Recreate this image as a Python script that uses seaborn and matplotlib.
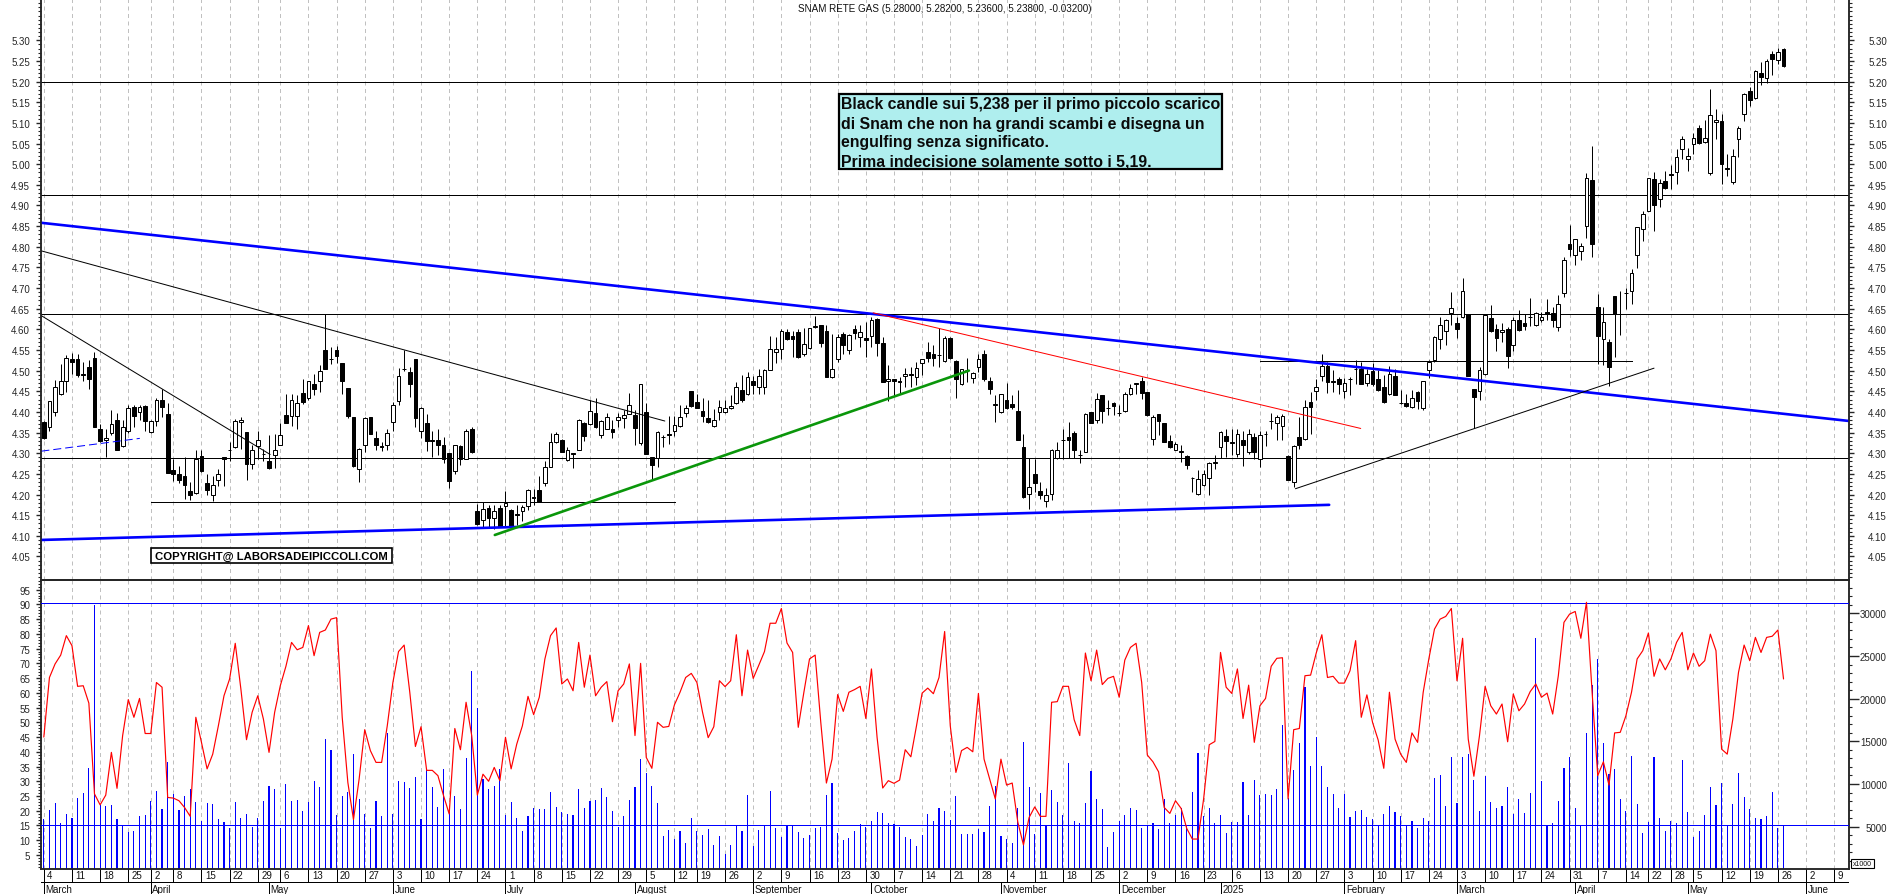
import numpy as np
import matplotlib
matplotlib.use("Agg")
import matplotlib.pyplot as plt
from matplotlib.patches import Rectangle
from matplotlib.ticker import MultipleLocator, FuncFormatter
import seaborn as sns

open_px = [
    4.376,4.363,4.400,4.443,4.476,4.529,4.527,4.492,4.509,4.530,
    4.359,4.331,4.350,4.380,4.317,4.353,4.412,4.400,4.414,4.351,
    4.377,4.429,4.396,4.259,4.249,4.246,4.209,4.204,4.293,4.229,
    4.198,4.235,4.290,4.309,4.315,4.376,4.351,4.273,4.317,4.299,
    4.281,4.295,4.321,4.393,4.389,4.390,4.447,4.434,4.468,4.474,
    4.551,4.529,4.551,4.518,4.459,4.388,4.261,4.321,4.388,4.338,
    4.317,4.321,4.376,4.426,4.503,4.497,4.528,4.355,4.374,4.331,
    4.332,4.321,4.301,4.256,4.317,4.287,4.359,4.160,4.138,4.167,
    4.143,4.168,4.171,4.162,4.152,4.159,4.171,4.193,4.212,4.229,
    4.267,4.327,4.332,4.283,4.301,4.309,4.372,4.371,4.397,4.343,
    4.359,4.359,4.380,4.385,4.396,4.392,4.325,4.400,4.290,4.288,
    4.339,4.346,4.353,4.366,4.397,4.450,4.425,4.403,4.386,4.367,
    4.400,4.400,4.410,4.422,4.454,4.443,4.476,4.460,4.460,4.502,
    4.545,4.552,4.593,4.584,4.593,4.541,4.555,4.606,4.611,4.597,
    4.485,4.527,4.589,4.551,4.600,4.581,4.579,4.584,4.626,4.567,
    4.476,4.480,4.475,4.487,4.492,4.485,4.518,4.544,4.540,4.538,
    4.523,4.579,4.524,4.468,4.501,4.482,4.509,4.540,4.475,4.418,
    4.400,4.430,4.419,4.402,4.315,4.201,4.250,4.208,4.184,4.201,
    4.288,4.332,4.339,4.350,4.296,4.304,4.400,4.380,4.441,4.410,
    4.422,4.398,4.402,4.443,4.468,4.476,4.448,4.335,4.396,4.372,
    4.330,4.309,4.304,4.293,4.240,4.202,4.222,4.240,4.277,4.314,
    4.342,4.327,4.299,4.333,4.304,4.339,4.287,4.347,4.377,4.374,
    4.366,4.293,4.230,4.339,4.335,4.423,4.450,4.487,4.511,4.474,
    4.479,4.451,4.479,4.505,4.505,4.469,4.499,4.480,4.460,4.444,
    4.487,4.422,4.422,4.411,4.448,4.409,4.501,4.525,4.577,4.597,
    4.639,4.616,4.630,4.636,4.456,4.450,4.491,4.628,4.600,4.593,
    4.602,4.563,4.622,4.615,4.630,4.610,4.622,4.642,4.640,4.606,
    4.689,4.807,4.780,4.790,4.850,4.961,4.654,4.577,4.569,4.681,
    4.638,4.687,4.693,4.780,4.842,4.887,4.965,4.915,4.960,4.975,
    4.982,5.037,5.013,5.050,5.088,5.054,4.978,5.102,5.105,4.991,
    4.957,5.062,5.121,5.178,5.161,5.221,5.209,5.267,5.252,5.280,
]
high_px = [
    4.378,4.426,4.477,4.517,4.539,4.543,4.541,4.521,4.525,4.545,
    4.371,4.359,4.405,4.398,4.380,4.416,4.417,4.416,4.417,4.380,
    4.434,4.456,4.422,4.287,4.270,4.292,4.230,4.307,4.307,4.250,
    4.246,4.263,4.292,4.327,4.384,4.388,4.351,4.319,4.354,4.310,
    4.343,4.347,4.374,4.444,4.444,4.442,4.480,4.476,4.493,4.513,
    4.637,4.557,4.560,4.519,4.459,4.388,4.313,4.388,4.388,4.355,
    4.327,4.359,4.424,4.507,4.549,4.509,4.529,4.412,4.396,4.355,
    4.359,4.339,4.301,4.321,4.321,4.359,4.363,4.178,4.183,4.174,
    4.174,4.174,4.209,4.166,4.174,4.174,4.214,4.214,4.246,4.280,
    4.349,4.351,4.334,4.315,4.301,4.382,4.376,4.428,4.434,4.380,
    4.397,4.380,4.398,4.404,4.446,4.404,4.468,4.422,4.290,4.354,
    4.345,4.390,4.390,4.416,4.417,4.450,4.444,4.434,4.430,4.408,
    4.428,4.428,4.440,4.472,4.489,4.497,4.486,4.503,4.503,4.584,
    4.581,4.602,4.602,4.597,4.602,4.603,4.603,4.632,4.611,4.611,
    4.589,4.589,4.593,4.589,4.611,4.610,4.618,4.630,4.627,4.581,
    4.514,4.480,4.484,4.506,4.509,4.521,4.529,4.569,4.561,4.603,
    4.585,4.581,4.525,4.505,4.531,4.497,4.541,4.549,4.484,4.442,
    4.444,4.471,4.440,4.454,4.347,4.288,4.287,4.230,4.216,4.311,
    4.327,4.359,4.376,4.355,4.307,4.398,4.401,4.446,4.441,4.430,
    4.424,4.416,4.448,4.468,4.471,4.484,4.448,4.392,4.396,4.372,
    4.343,4.327,4.319,4.295,4.243,4.259,4.259,4.279,4.295,4.355,
    4.359,4.359,4.359,4.355,4.358,4.349,4.353,4.353,4.397,4.393,
    4.396,4.295,4.319,4.388,4.428,4.448,4.480,4.541,4.521,4.501,
    4.484,4.482,4.485,4.525,4.522,4.505,4.519,4.501,4.489,4.511,
    4.503,4.452,4.444,4.454,4.450,4.476,4.525,4.585,4.630,4.626,
    4.690,4.630,4.725,4.636,4.456,4.509,4.638,4.658,4.614,4.616,
    4.606,4.630,4.646,4.638,4.676,4.642,4.642,4.674,4.654,4.682,
    4.776,4.852,4.820,4.810,4.978,5.044,4.686,4.654,4.577,4.681,
    4.692,4.699,4.747,4.849,4.886,4.967,4.981,4.963,4.983,4.998,
    5.036,5.068,5.038,5.075,5.096,5.107,5.181,5.133,5.121,5.024,
    5.036,5.092,5.173,5.187,5.227,5.248,5.255,5.274,5.282,5.282,
]
low_px = [
    4.334,4.355,4.389,4.440,4.448,4.493,4.484,4.476,4.456,4.363,
    4.327,4.292,4.345,4.309,4.315,4.350,4.363,4.380,4.355,4.350,
    4.365,4.388,4.251,4.233,4.229,4.188,4.186,4.202,4.254,4.198,
    4.184,4.221,4.221,4.280,4.313,4.311,4.234,4.261,4.287,4.280,
    4.263,4.265,4.319,4.372,4.367,4.359,4.420,4.430,4.440,4.448,
    4.503,4.517,4.518,4.444,4.386,4.267,4.230,4.304,4.346,4.309,
    4.305,4.307,4.353,4.416,4.498,4.436,4.364,4.337,4.305,4.292,
    4.295,4.276,4.217,4.250,4.271,4.285,4.301,4.125,4.121,4.121,
    4.116,4.121,4.121,4.119,4.125,4.135,4.162,4.174,4.183,4.221,
    4.267,4.325,4.303,4.280,4.265,4.307,4.330,4.369,4.362,4.338,
    4.358,4.338,4.363,4.362,4.394,4.321,4.321,4.297,4.238,4.267,
    4.315,4.323,4.342,4.363,4.388,4.412,4.409,4.376,4.374,4.363,
    4.380,4.398,4.408,4.420,4.424,4.442,4.444,4.444,4.443,4.501,
    4.519,4.529,4.573,4.533,4.531,4.535,4.553,4.603,4.557,4.485,
    4.483,4.521,4.541,4.541,4.577,4.557,4.533,4.557,4.535,4.472,
    4.426,4.440,4.444,4.460,4.460,4.466,4.489,4.521,4.511,4.509,
    4.521,4.529,4.434,4.466,4.472,4.471,4.497,4.476,4.444,4.376,
    4.398,4.408,4.408,4.331,4.192,4.166,4.206,4.190,4.170,4.186,
    4.287,4.287,4.288,4.288,4.276,4.303,4.372,4.372,4.372,4.393,
    4.392,4.390,4.401,4.442,4.444,4.432,4.390,4.321,4.343,4.327,
    4.313,4.307,4.279,4.261,4.206,4.200,4.220,4.200,4.263,4.288,
    4.291,4.295,4.291,4.268,4.299,4.287,4.267,4.317,4.359,4.333,
    4.333,4.234,4.218,4.311,4.331,4.347,4.430,4.476,4.447,4.448,
    4.444,4.434,4.442,4.468,4.467,4.464,4.464,4.451,4.422,4.442,
    4.440,4.420,4.412,4.410,4.408,4.404,4.482,4.522,4.553,4.561,
    4.610,4.579,4.628,4.486,4.362,4.428,4.489,4.594,4.547,4.569,
    4.506,4.547,4.595,4.598,4.608,4.607,4.618,4.622,4.606,4.595,
    4.678,4.777,4.756,4.769,4.821,4.775,4.517,4.513,4.463,4.533,
    4.587,4.650,4.662,4.749,4.814,4.886,4.838,4.896,4.939,4.941,
    4.953,5.012,4.983,5.024,5.050,5.052,4.974,5.062,4.953,4.971,
    4.951,5.017,5.104,5.141,5.159,5.192,5.197,5.215,5.242,5.236,
]
close_px = [
    4.337,4.426,4.460,4.476,4.530,4.521,4.489,4.489,4.480,4.363,
    4.329,4.337,4.371,4.309,4.363,4.409,4.389,4.413,4.377,4.377,
    4.430,4.411,4.251,4.249,4.236,4.222,4.198,4.287,4.256,4.210,
    4.222,4.249,4.286,4.307,4.378,4.380,4.273,4.309,4.331,4.297,
    4.265,4.309,4.343,4.372,4.428,4.422,4.424,4.474,4.456,4.498,
    4.505,4.528,4.535,4.476,4.390,4.268,4.311,4.385,4.346,4.319,
    4.315,4.349,4.418,4.487,4.505,4.467,4.385,4.409,4.330,4.330,
    4.321,4.287,4.232,4.319,4.285,4.355,4.302,4.129,4.164,4.143,
    4.160,4.121,4.179,4.121,4.151,4.169,4.211,4.191,4.183,4.267,
    4.326,4.346,4.304,4.309,4.297,4.380,4.342,4.403,4.363,4.377,
    4.387,4.351,4.388,4.393,4.418,4.361,4.468,4.297,4.271,4.351,
    4.340,4.345,4.369,4.388,4.409,4.414,4.410,4.391,4.376,4.381,
    4.412,4.409,4.415,4.460,4.430,4.485,4.466,4.487,4.502,4.553,
    4.552,4.596,4.577,4.577,4.533,4.564,4.603,4.607,4.568,4.485,
    4.505,4.581,4.561,4.587,4.591,4.593,4.573,4.622,4.567,4.472,
    4.480,4.476,4.472,4.493,4.489,4.507,4.527,4.531,4.530,4.537,
    4.580,4.531,4.479,4.503,4.502,4.494,4.529,4.479,4.456,4.419,
    4.443,4.409,4.411,4.331,4.193,4.218,4.227,4.200,4.199,4.309,
    4.309,4.333,4.332,4.307,4.295,4.396,4.372,4.431,4.402,4.409,
    4.414,4.397,4.443,4.458,4.469,4.447,4.393,4.388,4.377,4.327,
    4.314,4.322,4.305,4.271,4.239,4.238,4.249,4.277,4.278,4.352,
    4.330,4.324,4.346,4.321,4.346,4.303,4.343,4.346,4.378,4.387,
    4.390,4.234,4.317,4.319,4.411,4.413,4.460,4.511,4.472,4.473,
    4.468,4.469,4.480,4.504,4.468,4.491,4.468,4.452,4.424,4.491,
    4.440,4.421,4.414,4.434,4.426,4.475,4.521,4.581,4.610,4.622,
    4.652,4.602,4.694,4.486,4.435,4.501,4.634,4.595,4.579,4.598,
    4.535,4.623,4.598,4.608,4.629,4.640,4.630,4.636,4.622,4.661,
    4.769,4.794,4.818,4.802,4.967,4.806,4.585,4.617,4.510,4.637,
    4.637,4.688,4.737,4.849,4.880,4.967,4.901,4.955,4.942,4.974,
    5.018,5.062,5.020,5.064,5.051,5.064,5.119,5.107,5.000,4.989,
    5.020,5.087,5.171,5.155,5.225,5.211,5.250,5.254,5.272,5.238,
]
oscillator = [
    45,65.2,69.8,72.8,79.4,76,62.2,62.4,56.5,25.7,
    22,25.3,39.8,27.6,45.5,57.7,51.7,58.1,46.2,46.2,
    63.5,61.9,24.5,24.3,23.4,21.1,18.1,51.7,43.2,34.2,
    39.2,48.8,59,64.7,76.8,61.3,44.1,53.4,59,51.1,
    39.8,53.4,62.4,69,77.1,74.6,75.4,82.8,72.6,80.5,
    81.3,85,85.5,51.7,29.6,17,30.7,47.5,40.4,36.4,
    36.4,48.8,63.5,74,76.2,60.2,41.8,48.5,33.7,33.7,
    31.9,25.1,18.9,47.9,40.7,56.8,45.5,25.3,32.4,30,
    34.7,30.2,44.9,34.2,42.6,48.8,58.8,52.6,58.5,71.5,
    79.4,82,63,64.7,60.7,77.1,61.9,72.8,59,61.9,
    63.8,50.2,60.7,63,69.8,45.5,70,38.1,34.4,50,
    48.3,48.6,55.9,60.2,65.2,66.6,63.5,53.4,44.8,48.5,
    64.1,62.1,64.1,79.7,59,74.5,64.9,69.4,74,83.6,
    83.6,88.6,76.9,73.7,48.3,60.2,71.5,72.8,50,29.4,
    37.5,59.4,53.7,60.2,61.1,62.2,51.3,68.1,44.9,27.7,
    30.2,29.3,30.4,40.7,38.3,48.8,59.9,61.6,59.7,65.2,
    80.8,48.8,33,40.4,41.5,40,59.8,37.5,30.7,24,
    37.5,28.7,29.4,16.1,8.4,17.7,21.3,18.1,18.1,56.8,
    57,62.2,62.2,50.9,45.5,73.5,64.1,74.5,62.8,64.9,
    65.6,58.5,71.1,75.4,76.8,63.5,38.9,36.6,33.2,21.1,
    19.1,23.4,20.8,14,10.4,10.4,24,42.4,43.5,73.7,
    61.9,59.8,68.1,51.3,62.6,43.2,55.6,58.1,69,71.7,
    71.9,24,47.5,47.9,65.8,66,73.5,79.7,65.2,65.6,
    63.3,63.3,67.5,77.7,51.7,59.3,50,44,34.4,60.2,
    44.3,39.2,36.4,46.4,43.2,60.2,71.5,81.6,85,85.9,
    88.6,64.1,78.5,44.3,31.7,45.5,62.2,55.6,52.8,56.2,
    43.4,59.6,53.9,56.2,60.4,63,58.5,59.9,52.8,65.8,
    83.9,86.7,87.6,78.5,90.7,60.2,31.9,36.6,28.7,46.4,
    46.6,52.2,60.2,71.5,74.3,80.3,65.6,71.5,67.8,71.5,
    77.1,80.5,67.8,73.5,69,70.9,79.9,74.3,40.9,39.2,
    51.1,66.9,76.2,70.9,78.8,73.7,78.8,79.2,81.3,64.7,
]
volume = [
    5890,6940,7760,5380,6470,6000,8350,8930,11930,30930,
    7530,7450,7530,5890,5070,4400,4520,6200,6360,8000,
    9170,7060,12560,8810,6980,8580,9400,7880,5660,7760,
    7610,5890,5500,4840,7880,6050,6470,4990,6050,8000,
    9750,9400,4840,9980,8000,8110,6830,7880,10330,9630,
    15330,13960,6360,8580,9050,13490,8230,6470,4840,8000,
    6240,16030,6470,10330,10220,9520,10800,5890,11740,9630,
    7290,11740,6670,8580,7060,13030,23200,18880,10570,9400,
    9750,11740,6360,7880,6000,4520,6240,7210,7060,7060,
    9050,7290,6710,6470,6360,9400,7180,8000,8110,9520,
    8460,6830,4950,6240,8110,9630,12910,11270,9750,7760,
    3900,4600,3550,4450,3080,6000,4450,3980,4720,2850,
    3900,1790,2850,5230,4450,8700,2730,4600,5230,9170,
    4840,3780,5070,5070,4370,3670,4020,4840,4950,8700,
    10100,4250,3430,3670,4490,5270,4950,5660,6710,6590,
    5420,5300,4950,3780,3550,2730,4020,6470,5660,7180,
    6830,5770,8580,4130,4130,4130,4720,4370,7410,9750,
    3900,3550,3080,7180,14900,9630,4130,8930,5230,9280,
    7880,6360,12440,5660,5420,7760,11510,8230,7060,2610,
    4370,5660,6360,7180,6940,4840,5230,5420,4720,8230,
    5420,6360,7180,5070,9050,13610,6240,7180,5420,6360,
    4250,5540,5540,10220,6360,10450,8700,8810,8700,9400,
    16890,8350,11620,14780,21330,12090,15480,12090,9630,8810,
    7180,8810,6120,6830,6940,6120,5890,5070,6470,7410,
    6710,6240,5230,5660,4840,6000,5660,10690,11040,7410,
    13140,7760,13140,13490,10450,6830,10920,7880,7180,7410,
    9630,6470,8230,6590,8930,27070,10330,5230,5420,8000,
    11860,13140,7180,5070,15950,21570,24610,14780,11150,11740,
    8230,6830,13260,7640,4250,5540,13140,6000,4490,5660,
    5420,12790,6710,3780,4490,6360,9630,7530,10100,5230,
    7640,11270,8460,7060,6000,5890,6240,9050,4840,5230,
]
bar_index = list(range(len(close_px)))

# weekly date ticks, holidays make some weeks shorter
week_labels = ['4','11','18','25','2','8','15','22','29','6','13','20','27','3','10','17','24',
               '1','8','15','22','29','5','12','19','26','2','9','16','23','30','7','14','21','28',
               '4','11','18','25','2','9','16','23','6','13','20','27','3','10','17','24',
               '3','10','17','24','31','7','14','22','28','5','12','19','26','2','9']
week_bars = [0,5,10,15,19,23,28,33,38,42,47,52,57,62,67,72,77,
             82,87,92,97,102,107,112,116,121,126,131,136,141,146,151,156,161,166,
             171,176,181,186,191,196,201,206,211,216,221,226,231,236,241,246,
             251,256,261,266,271,276,281,285,289,293,298,303,308,313,318]
month_labels = ['March','April','May','June','July','August','September','October','November',
                'December','2025','February','March','April','May','June']
month_bars = [0,19,40,62,82,105,126,147,170,191,209,231,251,272,292,313]

price_levels = [5.198, 4.925, 4.637, 4.288]
osc_levels = [90.3, 15.3]

W, H = 1890, 895
LEFT, RIGHT = 41.4, 1849.4
XLIM = (-0.43, 320.7)
FONT = 'Liberation Sans'
THIN = 0.72  # one pixel at dpi 100


def add_axes(top, bottom):
    return fig.add_axes([LEFT / W, 1 - bottom / H, (RIGHT - LEFT) / W, (bottom - top) / H])


sns.set_style("white")
plt.rcParams['font.family'] = [FONT, 'DejaVu Sans']
plt.rcParams['axes.linewidth'] = 1.1

fig = plt.figure(figsize=(W / 100, H / 100), dpi=100)
ax = add_axes(0, 581)
ax_right = ax.twinx()
ax_low = add_axes(581, 870)
ax_vol = ax_low.twinx()
ax_date = add_axes(870, 895)

# candles
opens, highs, lows, closes = map(np.array, (open_px, high_px, low_px, close_px))
idx = np.array(bar_index)
down = closes < opens
ax.vlines(week_bars, 0, 1, transform=ax.get_xaxis_transform(), color='#c0c0c0', lw=THIN,
          linestyles=(0, (4, 3.5)), zorder=0)
ax.vlines(idx, lows, highs, color='black', lw=THIN, zorder=3)
body_w = 0.66
ax.bar(idx[~down], (closes - opens)[~down], bottom=opens[~down], width=body_w, color='white',
       edgecolor='black', linewidth=THIN, zorder=4)
ax.bar(idx[down], (closes - opens)[down], bottom=opens[down], width=body_w, color='black',
       edgecolor='black', linewidth=THIN, zorder=4)

for level in price_levels:
    ax.axhline(level, color='black', lw=THIN, zorder=2, antialiased=False)

# hand drawn trend lines
ax.plot([-0.43, 320.7], [4.858, 4.378], color='#0000ff', lw=1.9, zorder=5)
ax.plot([-0.43, 228.3], [4.09, 4.175], color='#0000ff', lw=1.9, zorder=5)
ax.plot([80.1, 164.3], [4.102, 4.50], color='#0a960a', lw=1.9, zorder=5)
ax.plot([147.3, 233.9], [4.64, 4.36], color='#ff0000', lw=THIN, zorder=5)
ax.plot([-0.43, 110.3], [4.79, 4.378], color='black', lw=THIN, zorder=5)
ax.plot([-0.43, 40.2], [4.633, 4.297], color='black', lw=THIN, zorder=5)
ax.plot([222.3, 286], [4.214, 4.506], color='black', lw=THIN, zorder=5)
ax.plot([19.1, 112.1], [4.183, 4.183], color='black', lw=THIN, zorder=2, antialiased=False)
ax.plot([216, 282], [4.524, 4.524], color='black', lw=THIN, zorder=2, antialiased=False)
ax.plot([-0.43, 17.05], [4.305, 4.336], color='#0000ff', lw=THIN, ls=(0, (8, 4)), zorder=5)

ax.set_xlim(*XLIM)
ax.set_ylim(3.993, 5.40)
ax.set_xticks([])
ax.spines['top'].set_visible(False)

# price scale on both sides, the right one through a twin axis
ax_right.set_ylim(3.993, 5.40)
ax_right.spines['top'].set_visible(False)
for a in (ax, ax_right):
    a.yaxis.set_major_locator(plt.FixedLocator(np.arange(4.05, 5.31, 0.05)))
    a.yaxis.set_minor_locator(MultipleLocator(0.01))
    a.yaxis.set_major_formatter(FuncFormatter(lambda v, p: f'{v:.2f}'))
ax.tick_params(axis='y', which='major', left=True, right=False, length=3.6, width=1, labelsize=7,
               pad=4.5)
ax.tick_params(axis='y', which='minor', left=True, right=False, length=2, width=0.8)
ax_right.tick_params(axis='y', which='major', right=True, left=False, length=3.6, width=1, labelsize=7,
                     pad=23.5)
ax_right.tick_params(axis='y', which='minor', right=True, left=False, length=2, width=0.8)

# oscillator and volume
sns.lineplot(x=bar_index, y=oscillator, color='#ff0000', lw=0.85, ax=ax_low, estimator=None, zorder=5)
for level in osc_levels:
    ax_low.axhline(level, color='#0000ff', lw=THIN, zorder=4, antialiased=False)
ax_low.set_ylim(0.24, 98.27)
ax_low.set_xlim(*XLIM)
ax_low.set_xticks([])
ax_low.yaxis.set_major_locator(plt.FixedLocator(np.arange(5, 96, 5)))
ax_low.yaxis.set_minor_locator(MultipleLocator(1))
ax_low.tick_params(axis='y', which='major', left=True, length=3.6, width=1, labelsize=7, pad=4.5)
ax_low.tick_params(axis='y', which='minor', left=True, length=2, width=0.8)
ax_low.set_xlabel('')
ax_low.set_ylabel('')

sns.barplot(x=bar_index, y=volume, native_scale=True, color='#0000ff', saturation=1, width=0.2,
            errorbar=None, linewidth=0, antialiased=False, ax=ax_vol)
# grid sits under the volume bars
ax_vol.vlines(week_bars, 0, 1, transform=ax_vol.get_xaxis_transform(), color='#c0c0c0', lw=THIN,
              linestyles=(0, (4, 3.5)), zorder=0)
ax_vol.set_xlim(*XLIM)
ax_vol.set_ylim(47, 33900)
ax_vol.set_xticks([])
ax_vol.set_xlabel('')
ax_vol.set_ylabel('')
ax_vol.yaxis.set_major_locator(plt.FixedLocator(np.arange(5000, 30001, 5000)))
ax_vol.yaxis.set_minor_locator(MultipleLocator(1000))
ax_vol.yaxis.set_major_formatter(FuncFormatter(lambda v, p: f'{int(v)}'))
ax_vol.tick_params(axis='y', which='major', right=True, left=False, length=7, width=1, labelsize=7,
                   pad=20, labelright=True, labelleft=False)
ax_vol.tick_params(axis='y', which='minor', right=True, left=False, length=2.2, width=0.8)
ax_low.set_zorder(ax_vol.get_zorder() + 1)
ax_low.patch.set_visible(False)

# right aligned labels on the right scales
fig.canvas.draw()
for a in (ax_right, ax_vol):
    for lab in a.get_yticklabels():
        lab.set_ha('right')

# date strip
ax_date.set_xlim(*XLIM)
ax_date.set_ylim(0, 1)
ax_date.set_xticks([])
ax_date.set_yticks([])
ax_date.patch.set_alpha(0)
for side in ('left', 'right', 'top', 'bottom'):
    ax_date.spines[side].set_visible(False)
ax_date.axhline(0.47, color='black', lw=THIN, antialiased=False)
ax_date.vlines(week_bars, 0.47, 1, color='black', lw=THIN, antialiased=False)
ax_date.vlines(month_bars, 0, 0.47, color='black', lw=THIN, antialiased=False)
for label, bar in zip(week_labels, week_bars):
    ax_date.text(bar + 0.6, 0.74, label, fontsize=7, va='center', ha='left', color='#111111')
for label, bar in zip(month_labels, month_bars):
    ax_date.text(bar + 0.3, 0.21, label, fontsize=7, va='center', ha='left', color='#111111')

# title, note and copyright are placed on the figure in pixels
fig.text(798 / W, 1 - 9 / H, 'SNAM RETE GAS (5.28000, 5.28200, 5.23600, 5.23800, -0.03200)',
         fontsize=7.1, va='center', ha='left', color='#111111')

fig.add_artist(Rectangle((838.8 / W, 1 - 170 / H), 383.4 / W, 75.5 / H, transform=fig.transFigure,
                         facecolor='#afeeee', edgecolor='black', linewidth=1.6, zorder=6))
note_lines = ['Black candle sui 5,238 per il primo piccolo scarico',
              'di Snam che non ha grandi scambi e disegna un',
              'engulfing senza significato.',
              'Prima indecisione solamente sotto i 5,19.']
for line, y in zip(note_lines, (104.7, 124, 142.7, 161.7)):
    fig.text(841 / W, 1 - y / H, line, fontsize=11.4, fontweight='bold', va='center', ha='left',
             color='#0a0a0a', zorder=7)

fig.add_artist(Rectangle((150.7 / W, 1 - 563.7 / H), 241 / W, 14.4 / H, transform=fig.transFigure,
                         facecolor='white', edgecolor='black', linewidth=1.2, zorder=6))
fig.text(271 / W, 1 - 556.6 / H, 'COPYRIGHT@ LABORSADEIPICCOLI.COM', fontsize=8.2, fontweight='bold',
         va='center', ha='center', color='black', zorder=7)

fig.add_artist(Rectangle((1851 / W, 1 - 869 / H), 23 / W, 9 / H, transform=fig.transFigure,
                         facecolor='white', edgecolor='black', linewidth=0.8, zorder=6))
fig.text(1862.5 / W, 1 - 864.5 / H, 'x1000', fontsize=5, va='center', ha='center', color='#111111', zorder=7)

fig.savefig('out.png', dpi=100)
